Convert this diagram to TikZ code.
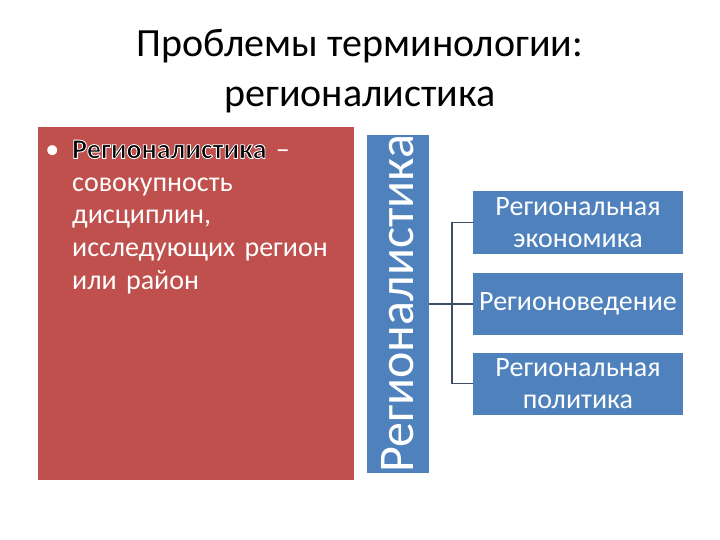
\documentclass[tikz,border=0pt]{standalone}
\usepackage{fontspec}
\setmainfont{Carlito}
\definecolor{redbox}{HTML}{C0504D}
\definecolor{bluebox}{HTML}{4F81BD}
\definecolor{conn}{HTML}{3F4D69}
\newcommand{\outlined}[1]{{\color{black}\special{pdf:code 1 1 1 RG 0.9 w 2 Tr}#1\special{pdf:code 0 Tr 0 G}}}
\begin{document}
\begin{tikzpicture}[x=1pt,y=-1pt,
  bluebx/.style={fill=bluebox, draw=none, text=white, inner sep=0pt, align=center,
    minimum width=210pt, minimum height=62pt, font={\fontsize{28}{32}\selectfont}},
  connline/.style={draw=conn, line width=1.8pt}]
\useasboundingbox (0,0) rectangle (720,540);
\fill[white] (0,0) rectangle (720,540);
% title
\node[anchor=north, align=center, inner sep=0pt, font={\fontsize{40}{50}\selectfont}] (title) at (360,29)
  {Проблемы терминологии:\\регионалистика};
% red panel
\node[fill=redbox, draw=none, anchor=north west, minimum width=316pt, minimum height=353pt, inner sep=0pt] (red) at (38,127) {};
\node[anchor=north west, inner sep=0pt, text width=275pt, align=left, text=white,
  font={\fontsize{28}{32.7}\selectfont}] (def) at (72,140)
  {\llap{\textbullet\hspace{13pt}}\textbf{\outlined{Регионалистика}} –\\совокупность\\дисциплин,\\исследующих регион\\или район};
% vertical blue box
\node[fill=bluebox, draw=none, text=white, rotate=90, minimum width=338pt, minimum height=62pt, inner sep=0pt,
  font={\fontsize{50}{50}\selectfont}] (vert) at (398,304) {Регионалистика};
% right boxes
\node[bluebx] (b1) at (578,222.5) {Региональная\\экономика};
\node[bluebx] (b2) at (578,304) {Регионоведение};
\node[bluebx] (b3) at (578,383.5) {Региональная\\политика};
% connectors
\coordinate (j) at (452,304);
\draw[connline] (vert.south) -- (b2.west);
\draw[connline] (b1.west) -| (j);
\draw[connline] (b3.west) -| (j);
\end{tikzpicture}
\end{document}
